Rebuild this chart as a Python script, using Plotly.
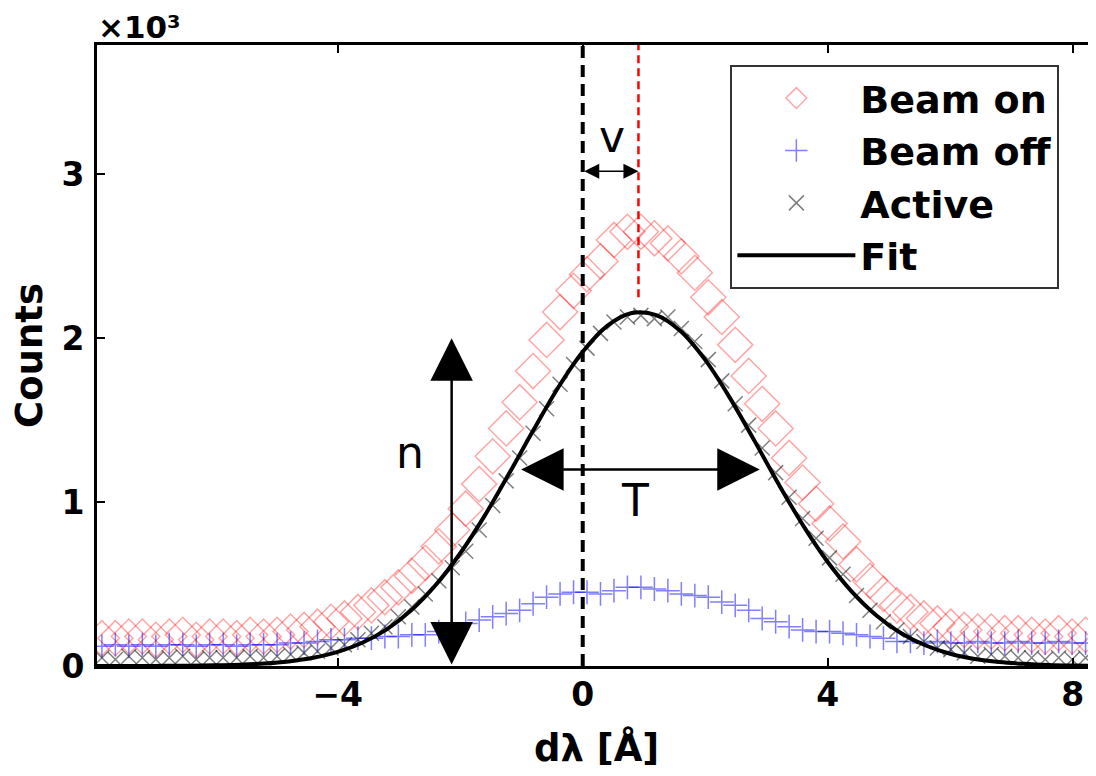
import plotly.graph_objects as go

# ---------------- data (counts in units of 10^3) ----------------
x_pts = [-7.85, -7.63, -7.41, -7.19, -6.97, -6.75, -6.53, -6.31, -6.09, -5.87,
         -5.65, -5.43, -5.21, -4.99, -4.77, -4.55, -4.33, -4.11, -3.89, -3.67,
         -3.45, -3.23, -3.01, -2.79, -2.57, -2.35, -2.13, -1.91, -1.69, -1.47,
         -1.25, -1.03, -0.81, -0.59, -0.37, -0.15, 0.07, 0.29, 0.51, 0.73,
         0.95, 1.17, 1.39, 1.61, 1.83, 2.05, 2.27, 2.49, 2.71, 2.93,
         3.15, 3.37, 3.59, 3.81, 4.03, 4.25, 4.47, 4.69, 4.91, 5.13,
         5.35, 5.57, 5.79, 6.01, 6.23, 6.45, 6.67, 6.89, 7.11, 7.33,
         7.55, 7.77, 7.99, 8.21]

beam_on = [0.17, 0.17, 0.18, 0.18, 0.16, 0.18, 0.19, 0.16, 0.18, 0.18,
           0.17, 0.19, 0.18, 0.19, 0.21, 0.22, 0.24, 0.27, 0.29, 0.33,
           0.37, 0.42, 0.48, 0.55, 0.63, 0.73, 0.83, 0.96, 1.11, 1.28,
           1.45, 1.61, 1.80, 1.99, 2.16, 2.29, 2.39, 2.47, 2.60, 2.65,
           2.65, 2.61, 2.58, 2.50, 2.40, 2.25, 2.13, 1.96, 1.77, 1.60,
           1.45, 1.27, 1.12, 0.99, 0.87, 0.76, 0.62, 0.52, 0.44, 0.37,
           0.33, 0.29, 0.26, 0.24, 0.22, 0.21, 0.21, 0.20, 0.20, 0.19,
           0.18, 0.20, 0.18, 0.19]

beam_off = [0.12, 0.13, 0.12, 0.13, 0.12, 0.13, 0.13, 0.12, 0.13, 0.13,
            0.12, 0.13, 0.13, 0.13, 0.14, 0.14, 0.15, 0.16, 0.16, 0.17,
            0.17, 0.18, 0.18, 0.19, 0.19, 0.21, 0.23, 0.26, 0.28, 0.30,
            0.32, 0.34, 0.38, 0.42, 0.44, 0.45, 0.45, 0.44, 0.46, 0.48,
            0.48, 0.47, 0.46, 0.44, 0.43, 0.42, 0.39, 0.37, 0.34, 0.29,
            0.27, 0.24, 0.22, 0.21, 0.21, 0.20, 0.19, 0.18, 0.17, 0.15,
            0.15, 0.14, 0.15, 0.14, 0.14, 0.15, 0.14, 0.14, 0.15, 0.14,
            0.14, 0.15, 0.14, 0.14]

active = [0.05, 0.04, 0.06, 0.05, 0.04, 0.05, 0.06, 0.04, 0.05, 0.05,
          0.05, 0.06, 0.05, 0.06, 0.07, 0.08, 0.09, 0.11, 0.13, 0.16,
          0.20, 0.24, 0.30, 0.36, 0.44, 0.52, 0.60, 0.70, 0.83, 0.98,
          1.13, 1.27, 1.42, 1.57, 1.72, 1.84, 1.94, 2.03, 2.10, 2.13,
          2.14, 2.12, 2.13, 2.06, 1.98, 1.87, 1.74, 1.60, 1.47, 1.33,
          1.18, 1.03, 0.90, 0.78, 0.66, 0.56, 0.43, 0.34, 0.27, 0.22,
          0.18, 0.15, 0.11, 0.10, 0.08, 0.06, 0.07, 0.06, 0.05, 0.05,
          0.04, 0.05, 0.04, 0.05]

fit_x = [-8.0, -7.6, -7.2, -6.8, -6.4, -6.0, -5.6, -5.2, -4.8, -4.4,
         -4.0, -3.6, -3.2, -2.8, -2.4, -2.0, -1.6, -1.2, -0.8, -0.4,
         0.0, 0.4, 0.8, 1.2, 1.6, 2.0, 2.4, 2.8, 3.2, 3.6,
         4.0, 4.4, 4.8, 5.2, 5.6, 6.0, 6.4, 6.8, 7.2, 7.6, 8.0, 8.4]
fit_y = [0.000, 0.000, 0.000, 0.001, 0.002, 0.004, 0.008, 0.015, 0.028, 0.050,
         0.086, 0.142, 0.224, 0.340, 0.494, 0.688, 0.918, 1.176, 1.443, 1.700,
         1.918, 2.076, 2.154, 2.142, 2.043, 1.868, 1.638, 1.377, 1.109, 0.857,
         0.635, 0.451, 0.307, 0.200, 0.125, 0.075, 0.043, 0.024, 0.013, 0.006,
         0.003, 0.002]

x_ticks = [-4, 0, 4, 8]
y_ticks = [0, 1, 2, 3]
x_range = [-7.93, 8.38]
y_range = [0, 3.79]

# annotation geometry (data units)
rest_line = 0.0          # black dashed line
shift_line = 0.91        # red dashed line (peak centre)
shift_line_bottom = 2.25
v_arrow_y = 3.02
n_arrow_x = -2.14
n_arrow_top = 2.0
t_arrow_y = 1.20
t_arrow_left, t_arrow_right = -1.03, 2.89

FONT = "DejaVu Sans"

fig = go.Figure()
fig.add_trace(go.Scatter(
    x=x_pts, y=beam_on, mode="markers", name="Beam on",
    marker=dict(symbol="diamond-open", size=27, color="rgba(255,0,0,0.35)",
                line=dict(width=1.5, color="rgba(255,0,0,0.35)"))))
fig.add_trace(go.Scatter(
    x=x_pts, y=beam_off, mode="markers", name="Beam off",
    marker=dict(symbol="cross-thin-open", size=17, color="rgba(0,0,255,0.5)",
                line=dict(width=1.5, color="rgba(0,0,255,0.5)"))))
fig.add_trace(go.Scatter(
    x=x_pts, y=active, mode="markers", name="Active",
    marker=dict(symbol="x-thin-open", size=15, color="rgba(0,0,0,0.5)",
                line=dict(width=1.5, color="rgba(0,0,0,0.5)"))))
fig.add_trace(go.Scatter(
    x=fit_x, y=fit_y, mode="lines", name="Fit", line_shape="spline",
    line=dict(color="black", width=4)))
# invisible trace on the right-hand axis (mirrored y ticks)
fig.add_trace(go.Scatter(x=[x_range[0]], y=[y_range[0]], yaxis="y2", mode="markers",
                         marker=dict(opacity=0), showlegend=False, hoverinfo="skip"))

# dashed reference lines
fig.add_shape(type="line", xref="x", yref="y", x0=rest_line, x1=rest_line,
              y0=y_range[0], y1=y_range[1], line=dict(color="black", width=4, dash="12px,7px"))
fig.add_shape(type="line", xref="x", yref="y", x0=shift_line, x1=shift_line,
              y0=shift_line_bottom, y1=y_range[1], line=dict(color="red", width=2.5, dash="8px,5px"))

def darrow(x0, y0, x1, y1, head, size, width):
    fig.add_annotation(x=x1, y=y1, ax=x0, ay=y0, xref="x", yref="y", axref="x", ayref="y",
                       text="", showarrow=True, arrowhead=head, startarrowhead=head,
                       arrowside="end+start", arrowsize=size, startarrowsize=size,
                       arrowwidth=width, arrowcolor="black")

darrow(rest_line, v_arrow_y, shift_line, v_arrow_y, 2, 2.0, 1.5)
darrow(n_arrow_x, 0, n_arrow_x, n_arrow_top, 2, 3.4, 2.5)
darrow(t_arrow_left, t_arrow_y, t_arrow_right, t_arrow_y, 2, 3.4, 2.5)

for txt, tx, ty in [("v", 0.47, 3.23), ("n", -2.82, 1.30), ("T", 0.85, 1.01)]:
    fig.add_annotation(x=tx, y=ty, xref="x", yref="y", text=txt, showarrow=False,
                       font=dict(family=FONT, size=44, color="black"))

fig.add_annotation(x=0, y=1, xref="paper", yref="paper", xanchor="left", yanchor="middle",
                   yshift=18, borderpad=0, text="×10³", showarrow=False,
                   font=dict(family=FONT, size=31, color="black", weight="bold"))

# x-axis title
fig.add_annotation(x=0.5, y=0, xref="paper", yref="paper", xanchor="center", yanchor="middle",
                   yshift=-82, text="dλ [Å]", showarrow=False,
                   font=dict(family=FONT, size=37, color="black", weight="bold"))

axis_common = dict(showgrid=False, zeroline=False, ticks="inside", ticklen=8, tickwidth=1.5,
                   tickcolor="black", showline=True, linewidth=3, linecolor="black",
                   automargin=False,
                   tickfont=dict(family=FONT, size=33, color="black", weight="bold"))

# the page body adds an 8px offset; the figure is sized so that it fills the window
fig.update_layout(
    width=1088, height=768,
    margin=dict(l=89, r=0, t=37, b=110),
    paper_bgcolor="white", plot_bgcolor="white",
    xaxis=dict(range=x_range, tickvals=x_ticks, mirror="ticks",
               ticklabelstandoff=-3, **axis_common),
    yaxis=dict(range=y_range, tickvals=y_ticks, mirror=False,
               title=dict(text="Counts", font=dict(family=FONT, size=37, color="black", weight="bold"),
                          standoff=15),
               ticklabelstandoff=3, **axis_common),
    yaxis2=dict(overlaying="y", side="right", matches="y", range=y_range, tickvals=y_ticks,
                ticks="inside", ticklen=8, tickwidth=1.5, tickcolor="black", automargin=False,
                showticklabels=False, showline=False, showgrid=False, zeroline=False),
    legend=dict(x=0.634, y=0.968, xanchor="left", yanchor="top",
                bgcolor="white", bordercolor="#333333", borderwidth=2,
                font=dict(family=FONT, size=38, color="black", weight="bold"),
                itemwidth=118),
    showlegend=True,
)

fig.write_html("out.html")
